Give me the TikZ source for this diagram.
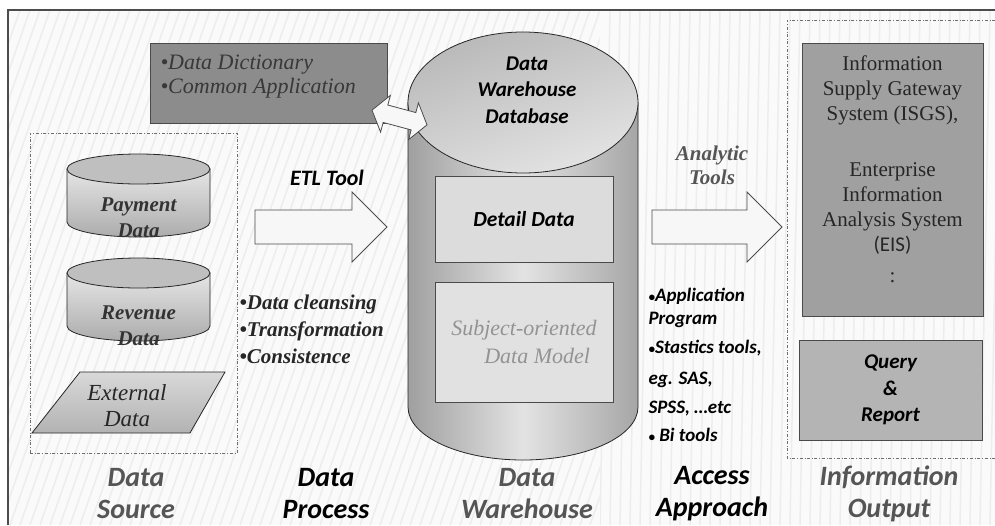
\documentclass[tikz,border=0pt]{standalone}
\usepackage{fontspec}
\setmainfont{Liberation Serif}
\setsansfont{Carlito}
\usetikzlibrary{positioning}

\definecolor{dictgray}{HTML}{8C8C8C}
\definecolor{infogray}{HTML}{A0A0A0}
\definecolor{querygray}{HTML}{B4B4B4}
\definecolor{boxlight}{HTML}{DCDCDC}
\definecolor{edgegray}{HTML}{4A4A4A}
\definecolor{labelgray}{HTML}{555555}

\newcommand{\smallbul}{{\fontsize{13}{13}\selectfont\textbullet}}

\tikzstyle{gray box}=[
    draw = edgegray,
    line width = 1pt,
    inner sep = 0pt
]
\tikzstyle{group box}=[
    draw = edgegray!80,
    dash dot,
    line width = 0.7pt,
    inner sep = 0pt
]
\tikzstyle{block arrow}=[
    draw = gray!60!black,
    fill = gray!6,
    line width = 0.8pt,
    line join = miter
]
\tikzstyle{stage label}=[
    font = \sffamily\bfseries\itshape\fontsize{28}{32}\selectfont,
    align = center
]

\begin{document}
\begin{tikzpicture}[x=1pt, y=-1pt, stripe/.style = {gray!14, line width=1.5pt}]
        \useasboundingbox (0,0) rectangle (995,525);

        % background and frame
        \fill[gray!4] (8,10) rectangle (995,525);
        \begin{scope}
            \clip (8,10) rectangle (600,525);
            \foreach \s in {-300,-290,...,600}
                \draw[stripe] (\s,525) -- (\s+180,10);
        \end{scope}
        \begin{scope}
            \clip (600,10) rectangle (995,525);
            \foreach \s in {600,610,...,1000}
                \draw[stripe] (\s,525) -- (\s+10,10);
        \end{scope}
        \draw[gray!60!black, line width=1.2pt] (8,525) -- (8,10) -- (995,10);

        % data source
        \node[group box, minimum width=207, minimum height=320] (source) at (133.5,293) {};
        \foreach \t in {154,258}{
            \shade[top color=gray!20, bottom color=gray!65, draw=gray!30!black, line width=0.8pt]
                (67,\t+15) -- (67,\t+68) arc[start angle=180, end angle=0, x radius=71.5, y radius=15]
                -- (210,\t+15) -- cycle;
            \filldraw[fill=gray!50, draw=gray!30!black, line width=0.8pt]
                (138.5,\t+15) ellipse[x radius=71.5, y radius=15];
        }
        \node[font=\bfseries\itshape\fontsize{21}{26}\selectfont, align=center, text=black!80] (pay) at (138.5,218) {Payment\\Data};
        \node[font=\bfseries\itshape\fontsize{21}{26}\selectfont, align=center, text=black!80] (rev) at (138.5,326) {Revenue\\Data};
        \shade[top color=gray!30, bottom color=gray!60, draw=gray!30!black, line width=0.8pt]
            (80,372) -- (225,372) -- (190,433) -- (32,433) -- cycle;
        \node[font=\itshape\fontsize{23}{26}\selectfont, align=center, text=black!85] (ext) at (127,406) {External\\Data};

        % data process
        \node[gray box, fill=dictgray, minimum width=237, minimum height=80] (dict) at (268.5,83) {};
        \node[font=\itshape\fontsize{22}{24}\selectfont, align=left, text=black!78, anchor=west] (dicttext) at (157,77) {\textbullet Data Dictionary\\\textbullet Common Application};
        \coordinate (etl) at (255,227);
        \draw[block arrow] (etl) ++(0,-17) -- ++(97,0) -- ++(0,-18) -- ++(35,35) -- ++(-35,35) -- ++(0,-18) -- ++(-97,0) -- cycle;
        \node[font=\sffamily\bfseries\itshape\fontsize{22}{26}\selectfont] (etltext) at (327,178) {ETL Tool};
        \node[font=\bfseries\itshape\fontsize{21}{27}\selectfont, align=left, text=black!85, anchor=west] (steps) at (236,329) {\textbullet Data cleansing\\\textbullet Transformation\\\textbullet Consistence};

        % data warehouse
        \shade[left color=gray!75, right color=gray!70, middle color=gray!22, draw=gray!30!black, line width=0.8pt]
            (408,102.5) -- (408,407) arc[start angle=180, end angle=0, x radius=115, y radius=53] -- (638,102.5) -- cycle;
        \shade[top color=gray!55, bottom color=gray!22, shading angle=20, draw=gray!30!black, line width=0.8pt]
            (523,102.5) ellipse[x radius=115, y radius=70.5];
        \node[font=\sffamily\bfseries\itshape\fontsize{21}{26.5}\selectfont, align=center] (dwtext) at (527,90) {Data\\Warehouse\\Database};
        \node[gray box, fill=boxlight, minimum width=178, minimum height=86, font=\sffamily\bfseries\itshape\fontsize{21.5}{26}\selectfont] (detail) at (524,219) {Detail Data};
        \node[gray box, fill=boxlight!85!white, minimum width=178, minimum height=120, align=center, text=gray!85, font=\itshape\fontsize{22}{28}\selectfont] (subject) at (524,342) {Subject-oriented\\\hspace{1.2em}Data Model};

        % access approach
        \coordinate (tools) at (652,227);
        \draw[block arrow] (tools) ++(0,-17) -- ++(95,0) -- ++(0,-18) -- ++(35,35) -- ++(-35,35) -- ++(0,-18) -- ++(-95,0) -- cycle;
        \node[font=\bfseries\itshape\fontsize{21}{24}\selectfont, align=center, text=labelgray] (toolstext) at (712,165) {Analytic\\Tools};
        \node[font=\sffamily\bfseries\itshape\fontsize{19}{23}\selectfont, align=left, anchor=west] (access) at (645,365) {\smallbul Application\\Program\\[6pt]\smallbul Stastics tools,\\[8pt]eg. SAS,\\[6pt]SPSS, …etc\\[5pt]\smallbul{} Bi tools};

        % information output
        \draw[edgegray!80, dash dot, line width=0.7pt] (995,20) -- (787,20) -- (787,458) -- (995,458);
        \node[gray box, fill=infogray, minimum width=181, minimum height=273] (info) at (892.5,179.5) {};
        \node[font=\fontsize{21}{25}\selectfont, align=center, text=black!85, anchor=north] (infotext) at ([yshift=-10pt]info.north) {Information\\Supply Gateway\\System (ISGS),\\[31pt]Enterprise\\Information\\Analysis System\\{\sffamily (EIS)}\\[6pt]:};
        \node[gray box, fill=querygray, minimum width=183, minimum height=100, align=center, font=\sffamily\bfseries\itshape\fontsize{21}{26.5}\selectfont] (query) at (890.5,390) {Query\\\&\\Report};

        % double arrow between dictionary and warehouse
        \begin{scope}[shift={(399.5,117.5)}, rotate=-15]
            \draw[block arrow] (-28.5,0) -- (-14.5,-19) -- (-14.5,-9) -- (14.5,-9) -- (14.5,-19) -- (28.5,0) -- (14.5,19) -- (14.5,9) -- (-14.5,9) -- (-14.5,19) -- cycle;
        \end{scope}

        % stage labels
        \node[stage label, text=labelgray] (lsource) at (136,494) {Data\\Source};
        \node[stage label] (lprocess) at (326,494) {Data\\Process};
        \node[stage label, text=labelgray] (lwarehouse) at (527,494) {Data\\Warehouse};
        \node[stage label] (laccess) at (712,494) {Access\\Approach};
        \node[stage label, text=labelgray] (loutput) at (889,494) {Information\\Output};

    \end{tikzpicture}
\end{document}
